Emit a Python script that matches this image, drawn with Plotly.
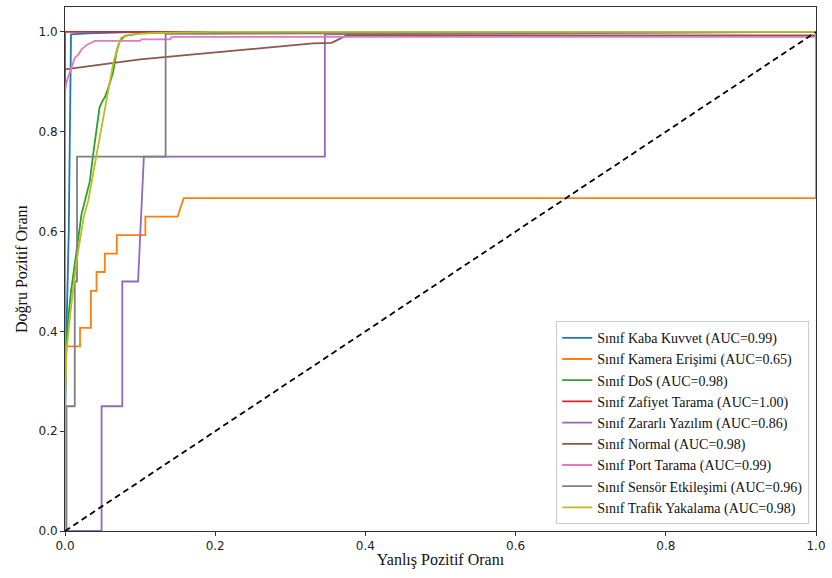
import plotly.graph_objects as go

names = ["Sınıf Kaba Kuvvet (AUC=0.99)", "Sınıf Kamera Erişimi (AUC=0.65)", "Sınıf DoS (AUC=0.98)",
         "Sınıf Zafiyet Tarama (AUC=1.00)", "Sınıf Zararlı Yazılım (AUC=0.86)", "Sınıf Normal (AUC=0.98)",
         "Sınıf Port Tarama (AUC=0.99)", "Sınıf Sensör Etkileşimi (AUC=0.96)", "Sınıf Trafik Yakalama (AUC=0.98)"]
colors = ["#1f77b4", "#ff7f0e", "#2ca02c", "#d62728", "#9467bd", "#8c564b", "#e377c2", "#7f7f7f", "#bcbd22"]

fpr_kaba = [0, 0, 0.002, 0.005, 0.008, 0.03, 0.1, 1]
tpr_kaba = [0, 0.2, 0.4, 0.6, 0.995, 0.997, 1, 1]

fpr_kamera = [0, 0, 0.02, 0.02, 0.0345, 0.0345, 0.042, 0.042, 0.053, 0.053, 0.069, 0.069, 0.107, 0.107, 0.150, 0.158, 1, 1]
tpr_kamera = [0, 0.370, 0.370, 0.407, 0.407, 0.481, 0.481, 0.519, 0.519, 0.556, 0.556, 0.593, 0.593, 0.630, 0.630, 0.667, 0.667, 1]

fpr_dos = [0, 0, 0.002, 0.004, 0.008, 0.013, 0.018, 0.022, 0.028, 0.033, 0.038, 0.043, 0.046, 0.05, 0.053, 0.057, 0.064, 0.069, 0.073, 0.08, 0.1, 0.15, 0.3, 1]
tpr_dos = [0, 0.28, 0.38, 0.42, 0.48, 0.54, 0.59, 0.635, 0.67, 0.70, 0.76, 0.82, 0.849, 0.862, 0.869, 0.885, 0.919, 0.962, 0.982, 0.992, 0.997, 0.999, 1, 1]

fpr_zafiyet = [0, 0, 1]
tpr_zafiyet = [0, 1, 1]

fpr_zararli = [0, 0.0487, 0.0487, 0.0763, 0.0763, 0.0973, 0.105, 0.346, 0.346, 1]
tpr_zararli = [0, 0, 0.25, 0.25, 0.5, 0.5, 0.75, 0.75, 0.995, 1]

fpr_normal = [0, 0, 0.1, 0.219, 0.33, 0.355, 0.375, 1, 1]
tpr_normal = [0, 0.925, 0.945, 0.962, 0.977, 0.978, 0.993, 0.993, 1]

fpr_port = [0, 0, 0.002, 0.005, 0.01, 0.013, 0.018, 0.022, 0.03, 0.04, 0.1, 0.102, 0.14, 0.142, 1, 1]
tpr_port = [0, 0.88, 0.9, 0.915, 0.935, 0.948, 0.955, 0.965, 0.975, 0.982, 0.982, 0.985, 0.985, 0.99, 0.99, 1]

fpr_sensor = [0, 0.002, 0.002, 0.013, 0.013, 0.016, 0.016, 0.134, 0.134, 1]
tpr_sensor = [0, 0, 0.25, 0.25, 0.5, 0.5, 0.75, 0.75, 0.996, 1]

fpr_trafik = [0, 0, 0.002, 0.007, 0.0155, 0.025, 0.031, 0.036, 0.05, 0.064, 0.07, 0.075, 0.088, 0.12, 0.2, 1]
tpr_trafik = [0, 0.25, 0.36, 0.435, 0.542, 0.63, 0.662, 0.702, 0.82, 0.935, 0.97, 0.989, 0.995, 0.998, 1, 1]

fprs = [fpr_kaba, fpr_kamera, fpr_dos, fpr_zafiyet, fpr_zararli, fpr_normal, fpr_port, fpr_sensor, fpr_trafik]
tprs = [tpr_kaba, tpr_kamera, tpr_dos, tpr_zafiyet, tpr_zararli, tpr_normal, tpr_port, tpr_sensor, tpr_trafik]

x_ticks = [0, 0.2, 0.4, 0.6, 0.8, 1.0]
y_ticks = [0, 0.2, 0.4, 0.6, 0.8, 1.0]

fig = go.Figure()
for n, c, fx, ty in zip(names, colors, fprs, tprs):
    fig.add_trace(go.Scatter(x=fx, y=ty, mode="lines", name=n, line=dict(color=c, width=1.8)))
fig.add_trace(go.Scatter(x=[0, 1], y=[0, 1], mode="lines", showlegend=False,
                         line=dict(color="black", width=1.8, dash="6px,4px")))

axis_common = dict(showgrid=False, zeroline=False, showline=True, linecolor="#333", linewidth=1,
                   mirror=True, ticks="outside", ticklen=4, tickcolor="#333",
                   tickfont=dict(family="DejaVu Sans", size=12, color="#222"))
fig.update_xaxes(range=[0, 1], tickvals=x_ticks, ticktext=[f"{v:.1f}" for v in x_ticks],
                 title=dict(text="Yanlış Pozitif Oranı", font=dict(family="Liberation Serif", size=16, color="#111"), standoff=1),
                 **axis_common)
fig.update_yaxes(range=[0, 1.05], tickvals=y_ticks, ticktext=[f"{v:.1f}" for v in y_ticks],
                 title=dict(text="Doğru Pozitif Oranı", font=dict(family="Liberation Serif", size=16, color="#111"), standoff=6),
                 **axis_common)
fig.update_layout(
    width=832, height=578, margin=dict(l=65, r=13, t=6, b=47),
    plot_bgcolor="white", paper_bgcolor="white",
    legend=dict(x=0.991, y=0.013, xanchor="right", yanchor="bottom",
                font=dict(family="Liberation Serif", size=14, color="#111"),
                bgcolor="rgba(255,255,255,0.8)", bordercolor="#ccc", borderwidth=1,
                tracegroupgap=0, itemwidth=30),
)
fig.write_html("out.html")
